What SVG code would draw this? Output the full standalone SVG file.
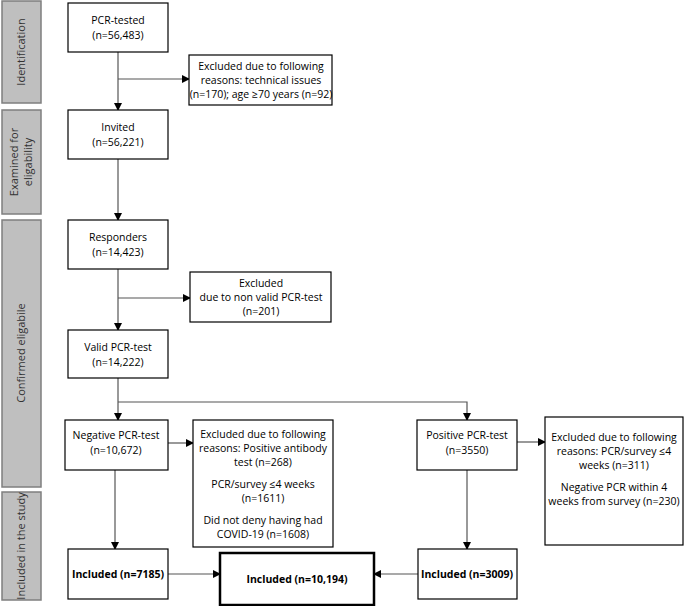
<svg xmlns="http://www.w3.org/2000/svg" width="685" height="606" viewBox="0 0 685 606">
<defs><marker id="a" markerWidth="8" markerHeight="8" refX="7" refY="4" orient="auto" markerUnits="userSpaceOnUse"><path d="M0,0 L8,4 L0,8 z" fill="#000"/></marker></defs>
<style>
.box{fill:#fff;stroke:#000;stroke-width:1.2}
.bar{fill:#bfbfbf;stroke:#7f7f7f;stroke-width:1.5}
text{font-family:"Open Sans","Liberation Sans",sans-serif;font-size:10.5px;fill:#000;text-anchor:middle}
.b{font-weight:bold}
.side{font-size:11px;fill:#333}
.ca{stroke:#555;stroke-width:1.2;fill:none;marker-end:url(#a)}
</style>
<rect width="685" height="606" fill="#fff"/>
<g id="bars">
<rect class="bar" x="2" y="1" width="39" height="102"/>
<text class="side" transform="translate(25,52) rotate(-90)">Identification</text>
<rect class="bar" x="2" y="110" width="39" height="104"/>
<text class="side" transform="translate(18,162) rotate(-90)">Examined for</text>
<text class="side" transform="translate(32,162) rotate(-90)">eligability</text>
<rect class="bar" x="2" y="220" width="39" height="267"/>
<text class="side" transform="translate(25,353) rotate(-90)">Confirmed eligabile</text>
<rect class="bar" x="2" y="492" width="39" height="108"/>
<text class="side" transform="translate(25,546) rotate(-90)">Included in the study</text>
</g>
<g id="connectors">
<path class="ca" d="M118,52 V110"/>
<path class="ca" d="M118,79 H189"/>
<path class="ca" d="M118,159 V220"/>
<path class="ca" d="M118,269 V330"/>
<path class="ca" d="M118,298 H190"/>
<path class="ca" d="M118,378 V420"/>
<path class="ca" d="M118,402 H467 V420"/>
<path class="ca" d="M168,443 H193"/>
<path class="ca" d="M517,442 H545"/>
<path class="ca" d="M115,470 V549"/>
<path class="ca" d="M467,470 V549"/>
<path class="ca" d="M168,574 H220"/>
<path class="ca" d="M418,574 H374"/>
</g>
<g id="n1"><rect class="box" x="68" y="3" width="100" height="49"/><text x="118" y="24">PCR-tested</text><text x="118" y="39">(n=56,483)</text></g>
<g id="n2"><rect class="box" x="189" y="55" width="143" height="50"/><text x="261" y="70">Excluded due to following</text><text x="261" y="84">reasons: technical issues</text><text x="261" y="98">(n=170); age ≥70 years (n=92)</text></g>
<g id="n3"><rect class="box" x="68" y="110" width="100" height="49"/><text x="118" y="131">Invited</text><text x="118" y="146">(n=56,221)</text></g>
<g id="n4"><rect class="box" x="68" y="220" width="100" height="49"/><text x="118" y="241">Responders</text><text x="118" y="256">(n=14,423)</text></g>
<g id="n5"><rect class="box" x="190" y="272" width="141" height="50"/><text x="261" y="287">Excluded</text><text x="261" y="301">due to non valid PCR-test</text><text x="261" y="315">(n=201)</text></g>
<g id="n6"><rect class="box" x="68" y="330" width="100" height="48"/><text x="118" y="351">Valid PCR-test</text><text x="118" y="366">(n=14,222)</text></g>
<g id="n7"><rect class="box" x="65" y="420" width="103" height="50"/><text x="116" y="439">Negative PCR-test</text><text x="116" y="454">(n=10,672)</text></g>
<g id="n8"><rect class="box" x="193" y="420" width="140" height="127"/><text x="263" y="438">Excluded due to following</text><text x="263" y="452">reasons: Positive antibody</text><text x="263" y="466">test (n=268)</text><text x="263" y="488">PCR/survey ≤4 weeks</text><text x="263" y="502">(n=1611)</text><text x="263" y="524">Did not deny having had</text><text x="263" y="538">COVID-19 (n=1608)</text></g>
<g id="n9"><rect class="box" x="417" y="420" width="100" height="50"/><text x="467" y="439">Positive PCR-test</text><text x="467" y="454">(n=3550)</text></g>
<g id="n10"><rect class="box" x="545" y="417" width="138" height="128"/><text x="614" y="441">Excluded due to following</text><text x="614" y="455">reasons: PCR/survey ≤4</text><text x="614" y="469">weeks (n=311)</text><text x="614" y="491">Negative PCR within 4</text><text x="614" y="505">weeks from survey (n=230)</text></g>
<g id="n11"><rect class="box" x="68" y="549" width="100" height="50"/><text class="b" x="118" y="578">Included (n=7185)</text></g>
<g id="n12"><rect class="box" x="220" y="553" width="154" height="52" style="stroke-width:2.5"/><text class="b" x="297" y="583">Included (n=10,194)</text></g>
<g id="n13"><rect class="box" x="418" y="549" width="99" height="50"/><text class="b" x="467" y="578">Included (n=3009)</text></g>
</svg>
